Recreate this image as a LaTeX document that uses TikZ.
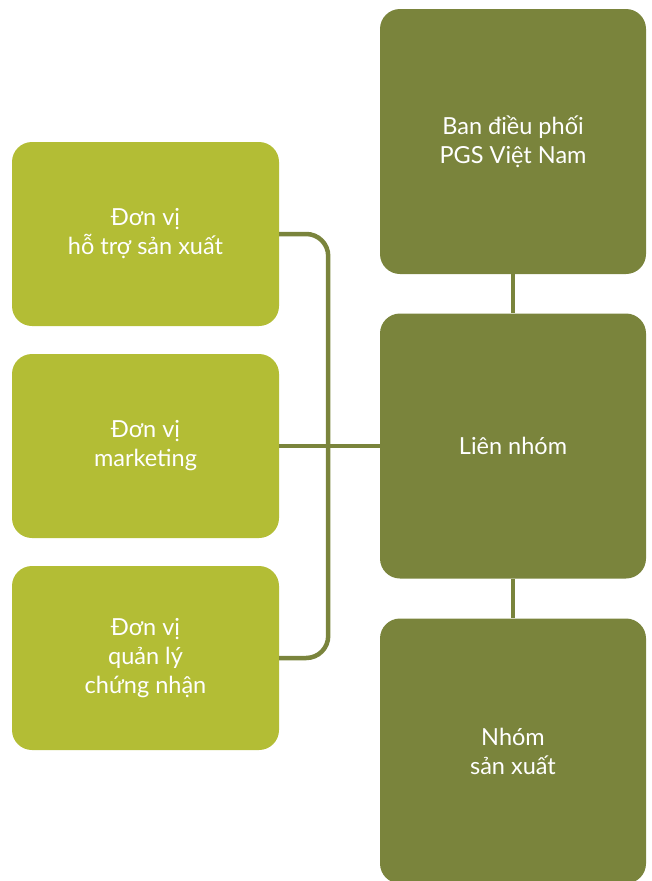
\documentclass[tikz,border=0pt]{standalone}
\usepackage{fontspec}
\setmainfont{Lato}
\definecolor{lightg}{HTML}{B3BD35}
\definecolor{darkg}{HTML}{7A843C}
\begin{document}
\begin{tikzpicture}[x=1pt,y=-1pt,
  box/.style={rounded corners=20pt, text=white, align=center, inner sep=0pt,
    font=\fontsize{23.5}{29}\selectfont},
  leftbox/.style={box, fill=lightg, minimum width=267pt, minimum height=184pt},
  rightbox/.style={box, fill=darkg, minimum width=266pt, minimum height=265pt},
  conn/.style={draw=darkg, line width=4.5pt}]
\useasboundingbox (0,0) rectangle (651,881);
\node[leftbox] (h1) at (145.5,234) {Đơn vị\\hỗ trợ sản xuất};
\node[leftbox] (h2) at (145.5,446) {Đơn vị\\marketing};
\node[leftbox] (h3) at (145.5,658) {Đơn vị\\quản lý\\chứng nhận};
\node[rightbox] (ban) at (513,141.5) {Ban điều phối\\PGS Việt Nam};
\node[rightbox] (lien) at (513,446) {Liên nhóm};
\node[rightbox] (nhom) at (513,751) {Nhóm\\sản xuất};
\draw[conn, rounded corners=22pt] (h1.east) -| ([xshift=49pt]h3.east) -- (h3.east);
\draw[conn] (h2.east) -- (lien.west);
\draw[conn] (ban.south) -- (lien.north);
\draw[conn] (lien.south) -- (nhom.north);
\end{tikzpicture}
\end{document}
